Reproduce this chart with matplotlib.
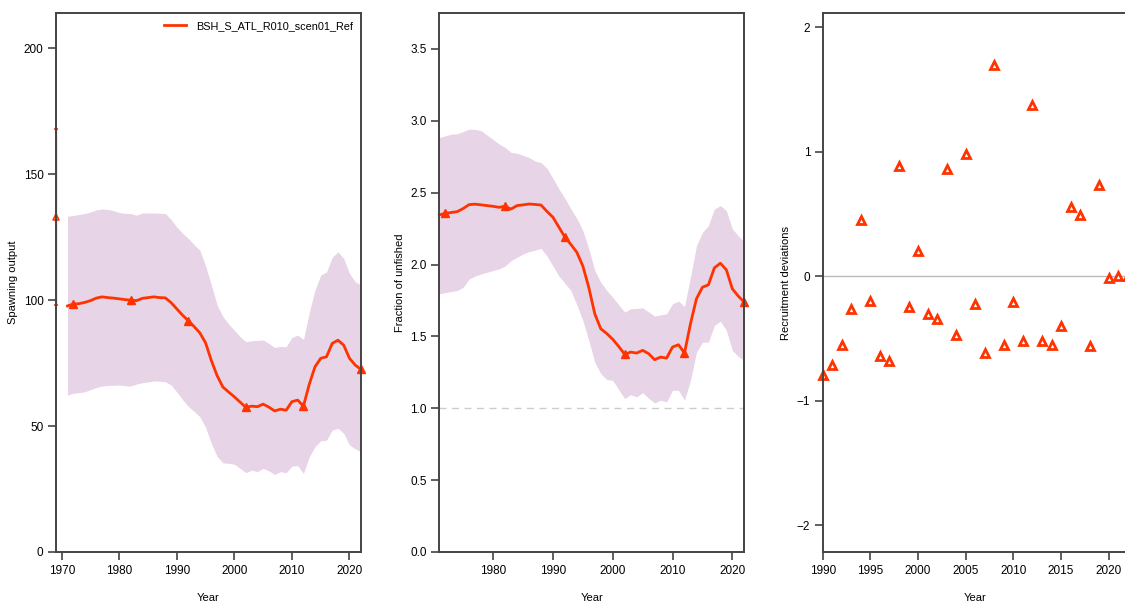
import numpy as np
import matplotlib
matplotlib.use("Agg")
import matplotlib.pyplot as plt

plt.rcParams['font.family'] = ['Liberation Sans', 'DejaVu Sans']

# spawning output time series with 95% interval
years = list(range(1971, 2023))
ssb = [97.7, 98.4, 98.6, 99.1, 99.8, 100.8, 101.3, 101.0, 100.8, 100.5,
       100.2, 100.0, 99.8, 100.7, 101.0, 101.3, 101.0, 100.9, 99.0, 96.5,
       94.0, 91.8, 89.5, 87.0, 83.0, 76.0, 70.0, 65.5, 63.5, 61.6,
       59.5, 57.4, 57.9, 57.7, 58.7, 57.5, 56.0, 56.7, 56.3, 59.7,
       60.3, 57.9, 66.5, 73.5, 76.9, 77.5, 82.8, 84.1, 82.1, 76.9,
       74.2, 72.5]
ssb_hi = [133.3, 133.6, 134.0, 134.4, 135.0, 135.8, 136.2, 136.0, 135.5, 134.8,
          134.4, 134.4, 133.7, 134.6, 134.6, 134.6, 134.5, 134.4, 132.0, 129.0,
          126.5, 124.5, 122.0, 119.8, 113.5, 106.0, 98.0, 93.5, 90.5, 88.0,
          85.5, 83.5, 83.9, 84.0, 84.2, 82.8, 81.2, 81.6, 81.5, 85.2,
          86.1, 84.4, 95.0, 104.0, 109.9, 111.2, 117.0, 119.2, 116.5, 110.6,
          107.3, 106.0]
ssb_lo = [62.3, 63.0, 63.3, 63.6, 64.5, 65.3, 65.9, 66.1, 66.2, 66.3,
          66.0, 65.9, 66.7, 67.2, 67.5, 67.9, 67.8, 67.6, 66.3, 63.5,
          60.5, 57.8, 55.8, 53.7, 49.5, 43.0, 38.0, 35.4, 35.2, 34.8,
          33.2, 31.5, 32.5, 31.9, 33.2, 32.2, 30.8, 31.9, 31.5, 34.1,
          34.3, 31.2, 37.8, 41.8, 44.2, 44.4, 48.4, 49.1, 47.1, 42.5,
          41.0, 39.8]
# unfished (virgin) estimate
virgin_year = 1969
virgin_ssb = 133.0
virgin_lo, virgin_hi = 98.0, 168.0

# fraction of unfished
frac = [2.345, 2.356, 2.362, 2.368, 2.39, 2.417, 2.42, 2.415, 2.41, 2.405,
        2.398, 2.405, 2.386, 2.41, 2.415, 2.421, 2.418, 2.414, 2.37, 2.329,
        2.26, 2.19, 2.14, 2.085, 1.99, 1.84, 1.657, 1.553, 1.52, 1.48,
        1.43, 1.375, 1.391, 1.384, 1.403, 1.38, 1.338, 1.356, 1.349, 1.426,
        1.442, 1.384, 1.588, 1.762, 1.842, 1.859, 1.977, 2.009, 1.963, 1.831,
        1.78, 1.738]
frac_hi = [2.884, 2.895, 2.907, 2.91, 2.925, 2.942, 2.94, 2.931, 2.9, 2.87,
           2.838, 2.815, 2.78, 2.775, 2.76, 2.745, 2.72, 2.71, 2.67, 2.6,
           2.526, 2.46, 2.387, 2.32, 2.236, 2.11, 1.958, 1.877, 1.82, 1.772,
           1.72, 1.669, 1.692, 1.695, 1.699, 1.67, 1.641, 1.65, 1.657, 1.727,
           1.745, 1.708, 1.912, 2.132, 2.224, 2.271, 2.387, 2.41, 2.375, 2.248,
           2.2, 2.155]
frac_lo = [1.796, 1.805, 1.812, 1.819, 1.842, 1.9, 1.92, 1.935, 1.947, 1.958,
           1.97, 1.99, 2.028, 2.05, 2.074, 2.09, 2.1, 2.113, 2.06, 1.99,
           1.92, 1.87, 1.819, 1.72, 1.611, 1.472, 1.32, 1.241, 1.2, 1.194,
           1.13, 1.067, 1.095, 1.079, 1.109, 1.07, 1.037, 1.056, 1.044, 1.125,
           1.125, 1.056, 1.194, 1.391, 1.46, 1.46, 1.576, 1.606, 1.542, 1.403,
           1.36, 1.333]

# recruitment deviations
rec_years = list(range(1990, 2023))
rec_devs = [-0.79, -0.71, -0.55, -0.26, 0.45, -0.20, -0.64, -0.68, 0.89, -0.25,
            0.20, -0.30, -0.34, 0.86, -0.47, 0.98, -0.22, -0.62, 1.70, -0.55,
            -0.21, -0.52, 1.38, -0.52, -0.55, -0.40, 0.56, 0.49, -0.56, 0.73,
            -0.01, 0.00, 0.00]

red = '#ff3300'
band = '#e7d4e6'
spine_col = '#444444'
model_name = 'BSH_S_ATL_R010_scen01_Ref'

W, H = 1125, 603
fig = plt.figure(figsize=(W / 100, H / 100), dpi=100)


def panel(x0, x1, y0=13, y1=552):
    return fig.add_axes([x0 / W, 1 - y1 / H, (x1 - x0) / W, (y1 - y0) / H])


def style(ax):
    for s in ax.spines.values():
        s.set_color(spine_col)
        s.set_linewidth(1.4)
    ax.tick_params(direction='out', length=6, width=1.2, color=spine_col,
                   labelsize=8.5, pad=3)


ax1 = panel(56, 361)
ax2 = panel(439.3, 744.3)
ax3 = panel(822.7, 1127.8)

# spawning output
ax1.fill_between(years, ssb_lo, ssb_hi, color=band, lw=0)
ax1.plot(years, ssb, color=red, lw=2, marker='^', ms=6, markevery=slice(1, None, 10),
         label=model_name, clip_on=False)
ax1.errorbar([virgin_year], [virgin_ssb],
             yerr=[[virgin_ssb - virgin_lo], [virgin_hi - virgin_ssb]],
             color=red, lw=0.9, capsize=1.5, marker='^', ms=5, mfc='none', mew=1.2,
             clip_on=False)
ax1.set_xlim(1969, 2022)
ax1.set_ylim(0, 214)
ax1.set_xticks([1970, 1980, 1990, 2000, 2010, 2020])
ax1.set_yticks([0, 50, 100, 150, 200])
ax1.set_ylabel('Spawning output', fontsize=8)
ax1.set_xlabel('Year', fontsize=8, labelpad=12)
ax1.legend(loc='upper right', frameon=False, fontsize=7.8, handlelength=2.0,
           handletextpad=0.9, borderaxespad=0.35, markerscale=0)
style(ax1)

# fraction of unfished
ax2.fill_between(years, frac_lo, frac_hi, color=band, lw=0)
ax2.axhline(1.0, color='#cccccc', lw=1, ls=(0, (5, 4)))
ax2.plot(years, frac, color=red, lw=2, marker='^', ms=6, markevery=slice(1, None, 10),
         clip_on=False)
ax2.set_xlim(1971, 2022)
ax2.set_ylim(0, 3.75)
ax2.set_xticks([1980, 1990, 2000, 2010, 2020])
ax2.set_yticks([0.0, 0.5, 1.0, 1.5, 2.0, 2.5, 3.0, 3.5])
ax2.set_yticklabels(['0.0', '0.5', '1.0', '1.5', '2.0', '2.5', '3.0', '3.5'])
ax2.set_ylabel('Fraction of unfished', fontsize=8)
ax2.set_xlabel('Year', fontsize=8, labelpad=12)
style(ax2)

# recruitment deviations
ax3.axhline(0, color='#bbbbbb', lw=1)
ax3.plot(rec_years, rec_devs, ls='none', marker='^', ms=5.5, mfc='white',
         mec=red, mew=2.0, clip_on=False)
ax3.set_xlim(1990, 2022)
ax3.set_ylim(-2.215, 2.116)
ax3.set_xticks([1990, 1995, 2000, 2005, 2010, 2015, 2020])
ax3.set_yticks([-2, -1, 0, 1, 2])
ax3.set_ylabel('Recruitment deviations', fontsize=8)
ax3.set_xlabel('Year', fontsize=8, labelpad=12)
style(ax3)

fig.savefig('out.png', dpi=100)
